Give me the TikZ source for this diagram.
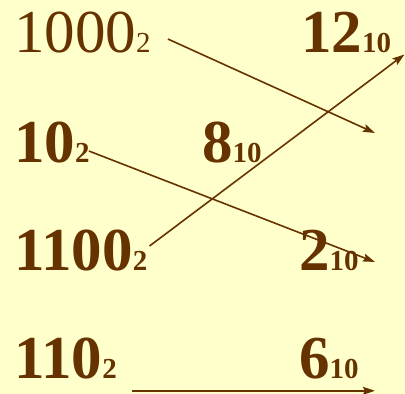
\documentclass[tikz,border=0pt]{standalone}
\usepackage{fontspec}
\setmainfont{Liberation Serif}
\usetikzlibrary{arrows.meta,calc}
\definecolor{paper}{HTML}{FFFFCC}
\definecolor{ink}{HTML}{663300}
\newcommand{\base}[1]{{\fontsize{29}{29}\selectfont #1}}

\begin{document}
\begin{tikzpicture}[x=1pt, y=-1pt,
  num/.style={anchor=base west, inner sep=0pt, text=ink, font=\fontsize{61}{61}\selectfont\bfseries},
  plain/.style={font=\fontsize{61}{61}\selectfont\mdseries},
  arr/.style={-{Stealth[length=12pt, width=8pt, inset=2pt]}, line width=1.6pt, draw=ink}]
\fill[paper] (0,0) rectangle (405,394);
\useasboundingbox (0,0) rectangle (405,394);
% binary column
\node[num, plain] (b1000) at (14,52) {1000\base{2}};
\node[num] (b10) at (14,162) {10\base{2}};
\node[num] (b1100) at (14,270) {1100\base{2}};
\node[num] (b110) at (14,378) {110\base{2}};
% decimal column
\node[num] (d12) at (301,52) {12\base{10}};
\node[num] (d8) at (202,162) {8\base{10}};
\node[num] (d2) at (299,270) {2\base{10}};
\node[num] (d6) at (299,378) {6\base{10}};
% free end of the first arrow
\coordinate (e1) at (375,133);
\draw[arr] ($(b1000.east)+(17,7)$) -- (e1);
\draw[arr] ($(b10.east)+(-1,9)$) -- ($(d2.east)+(16,12)$);
\draw[arr] ($(b1100.east)+(2,-4)$) -- ($(d12.south east)+(13,2)$);
\draw[arr] ($(b110.south east)+(15,12)$) -- ($(d6.south east)+(16,12)$);
\end{tikzpicture}
\end{document}
